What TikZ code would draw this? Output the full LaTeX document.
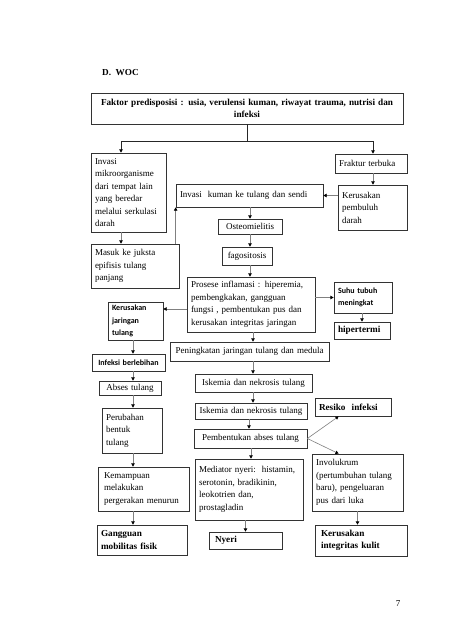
\documentclass[tikz,border=0pt]{standalone}
\usepackage{fontspec}
\setmainfont{Liberation Serif}
\newfontfamily\carl{Carlito}
\usetikzlibrary{arrows.meta,calc}
\newcommand\myrg{\fontsize{9}{12.5}\selectfont}
\newcommand\mybd{\fontsize{9.2}{12.5}\selectfont\bfseries}
\newcommand\mysb{\fontsize{8}{12.5}\selectfont\carl\bfseries}
\tikzset{
  bx/.style={draw=black!80, line width=0.7pt, inner xsep=4pt, inner ysep=1pt, align=left, font=\myrg},
  bxc/.style={bx, align=center},
  conn/.style={draw=black!50, line width=0.6pt, -{Triangle[length=3.2pt,width=3.4pt,color=black]}},
  mainln/.style={draw=black!85, line width=0.7pt},
  mainarr/.style={mainln, -{Triangle[length=3.2pt,width=3.4pt,color=black]}}
}
\begin{document}
\begin{tikzpicture}[x=1pt,y=-1pt]
\fill[white] (0,0) rectangle (474,632);
\useasboundingbox (0,0) rectangle (474,632);

\node[font=\mybd, anchor=west, inner sep=0pt] (title) at (102,73) {D.\ \ WOC};

\node[bxc, font=\mybd, inner xsep=2pt, text width=308, minimum height=31] (faktor) at (247,108.5) {Faktor predisposisi : usia, verulensi kuman, riwayat trauma, nutrisi dan\\infeksi};

\node[bx, text width=67, minimum height=79] (invmik) at (128.5,192.5) {Invasi\\mikroorganisme\\dari tempat lain\\yang beredar\\melalui serkulasi\\darah};
\node[bx, text width=80, minimum height=44] (masuk) at (135,266) {Masuk ke juksta\\epifisis tulang\\panjang};
\node[bx, text width=139, minimum height=23] (invkum) at (249.5,195.5) {Invasi\ \ kuman ke tulang dan sendi};
\node[bx, text width=64, minimum height=19] (fraktur) at (371,163.5) {Fraktur terbuka};
\node[bx, text width=61, minimum height=45] (kpd) at (372.5,207.5) {Kerusakan\\pembuluh\\darah};
\node[bxc, text width=56, minimum height=15] (osteo) at (250,226.5) {Osteomielitis};
\node[bxc, inner xsep=2pt, text width=46, minimum height=18] (fago) at (247,256) {fagositosis};
\node[bx, text width=120, minimum height=55] (prosese) at (251,304.5) {Prosese inflamasi : hiperemia,\\pembengkakan, gangguan\\fungsi , pembentukan pus dan\\kerusakan integritas jaringan};
\node[bx, font=\mysb, text width=50, minimum height=31] (suhu) at (363,297.5) {Suhu tubuh\\meningkat};
\node[bx, font=\mybd, text width=48, minimum height=17] (hiper) at (362,330.5) {hipertermi};
\node[bx, font=\mysb, text width=47, minimum height=38] (kjt) at (135.5,321) {Kerusakan\\jaringan\\tulang};
\node[bxc, font=\mysb, text width=65, minimum height=17] (infb) at (128.5,362.5) {Infeksi berlebihan};
\node[bxc, inner xsep=2pt, text width=155, minimum height=19] (pening) at (249.5,351.5) {Peningkatan jaringan tulang dan medula};
\node[bxc, text width=109, minimum height=18] (isk1) at (253.5,383) {Iskemia dan nekrosis tulang};
\node[bxc, inner xsep=2pt, text width=108, minimum height=16] (isk2) at (251,411) {Iskemia dan nekrosis tulang};
\node[bxc, text width=105, minimum height=19] (pemb) at (250.5,438.5) {Pembentukan abses tulang};
\node[bxc, text width=54, minimum height=14] (abses) at (130,388) {Abses tulang};
\node[bx, text width=52, minimum height=45] (perub) at (132,430.5) {Perubahan\\bentuk\\tulang};
\node[bx, font=\mybd, text width=68, minimum height=18] (resiko) at (353,407) {Resiko\ \ infeksi};
\node[bx, text width=83, minimum height=57] (invol) at (357.5,482.5) {Involukrum\\(pertumbuhan tulang\\baru), pengeluaran\\pus dari luka};
\node[bx, inner xsep=6pt, text width=79, minimum height=44] (kemamp) at (143.5,489) {Kemampuan\\melakukan\\pergerakan menurun};
\node[bx, font=\mybd, text width=82, minimum height=30] (gangg) at (142,540) {Gangguan\\mobilitas fisik};
\node[bx, text width=100, minimum height=61] (medi) at (249,489.5) {Mediator nyeri:\ \ histamin,\\serotonin, bradikinin,\\leokotrien dan,\\prostagladin};
\node[bx, inner xsep=6pt, font=\mybd, text width=61, minimum height=17] (nyeri) at (245.5,540.5) {Nyeri};
\node[bx, inner xsep=6pt, font=\mybd, text width=80, minimum height=31] (kik) at (361,540.5) {Kerusakan\\integritas kulit};

\node[font=\myrg, inner sep=0pt] (page) at (398,604) {7};

% connectors
\coordinate (jL) at (121,141);
\coordinate (jR) at (373,141);
\coordinate (cM) at (251,0);
\coordinate (cL) at (133,0);
\draw[mainln] (faktor.south) -- (faktor.south |- jL);
\draw[mainln] (jL) -- (jR);
\draw[mainarr] (jL) -- (jL |- invmik.north);
\draw[mainarr] (jR) -- (jR |- fraktur.north);

\draw[conn] (invmik.south -| jL) -- (masuk.north -| jL);
\draw[conn] (masuk.north -| invkum.west) -- (invkum.south west);
\draw[conn] (fraktur.south -| jR) -- (kpd.north -| jR);
\draw[conn] (kpd.west |- invkum.east) -- (invkum.east);

\draw[conn] (invkum.south -| osteo.north) -- (osteo.north);
\draw[conn] (osteo.south) -- (fago.north -| osteo.south);
\draw[conn] (fago.south -| osteo.south) -- (prosese.north -| osteo.south);
\draw[conn] (prosese.east |- suhu.west) -- (suhu.west);
\draw[conn] (suhu.south -| hiper.north) -- (hiper.north);
\path (prosese.west) ++(0,4.5) coordinate (pk);
\draw[conn] (pk) -- (pk -| kjt.east);
\draw[conn] ($(prosese.south -| cM)+(2,0)$) -- ($(pening.north -| cM)+(2,0)$);
\draw[conn] ($(pening.south -| cM)+(2,0)$) -- ($(isk1.north -| cM)+(2,0)$);
\draw[conn] ($(isk1.south -| cM)+(2,0)$) -- ($(isk2.north -| cM)+(2,0)$);
\draw[conn] ($(isk2.south -| cM)+(-2,0)$) -- ($(pemb.north -| cM)+(-2,0)$);
\draw[conn] (pemb.south -| cM) -- (medi.north -| cM);
\draw[conn] (medi.south -| nyeri.north) -- (nyeri.north);
\draw[conn] (pemb.east) -- ($(resiko.south west)+(24,0)$);
\draw[conn] (pemb.east) -- ($(invol.north west)+(27,0)$);
\draw[conn] (invol.south) -- (kik.north -| invol.south);

\draw[conn] (kjt.south -| cL) -- (infb.north -| cL);
\draw[conn] (infb.south -| cL) -- (abses.north -| cL);
\draw[conn] (abses.south -| cL) -- (perub.north -| cL);
\draw[conn] (perub.south -| cL) -- (kemamp.north -| cL);
\draw[conn] (kemamp.south -| cL) -- (gangg.north -| cL);
\end{tikzpicture}
\end{document}
